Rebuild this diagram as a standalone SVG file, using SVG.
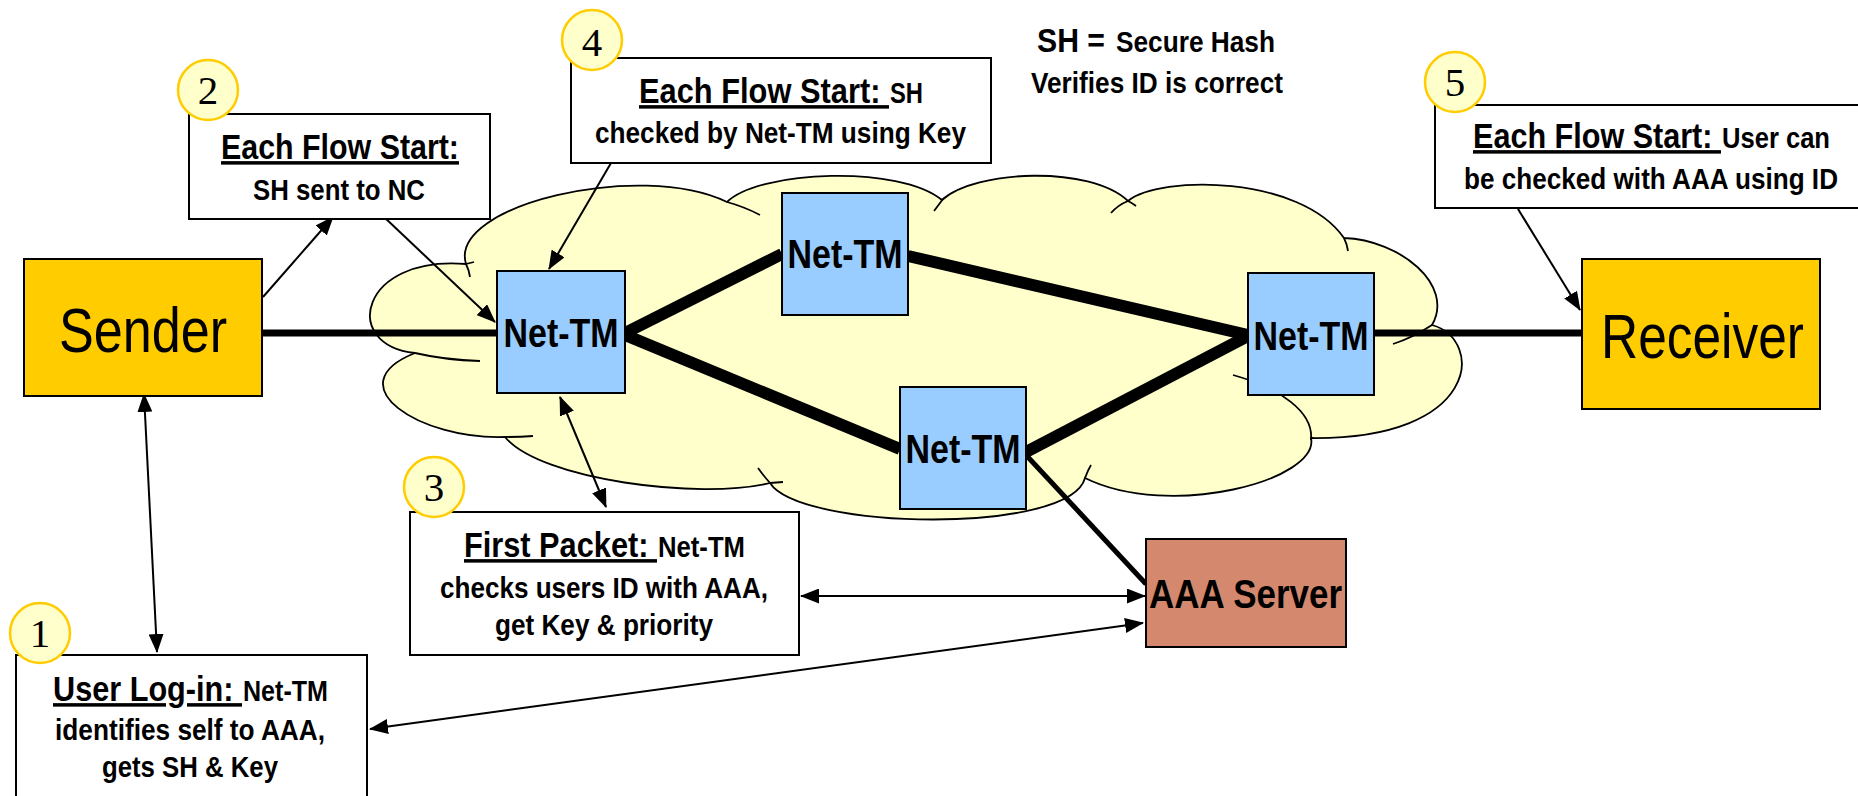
<svg xmlns="http://www.w3.org/2000/svg" width="1858" height="796" viewBox="0 0 1858 796">
<style>
.t{font-family:"Liberation Sans",Arial,sans-serif;font-weight:bold;fill:#000}
.h{font-size:30.5px}
.b{font-size:26px}
.u{text-decoration:underline}
.big{font-family:"Liberation Sans",Arial,sans-serif;font-size:63px;fill:#000}
.box{fill:#fff;stroke:#000;stroke-width:2}
.num{fill:#FFFFCC;stroke:#FFCC00;stroke-width:2.5}
.numt{font-family:"Liberation Serif","Times New Roman",serif;font-size:41px;fill:#000;text-anchor:middle}
.nt{fill:#99CCFF;stroke:#000;stroke-width:2}
.ntl{font-family:"Liberation Sans",Arial,sans-serif;font-weight:bold;font-size:40px;fill:#000}
.thick{stroke:#000;fill:none}
.thin{stroke:#000;stroke-width:2;fill:none}
.stub{fill:none;stroke:#000;stroke-width:1.8}
</style>
<defs>
<marker id="ah" markerUnits="userSpaceOnUse" markerWidth="19" markerHeight="15" refX="18" refY="7.5" orient="auto-start-reverse" viewBox="0 0 19 15"><path d="M0,0 L19,7.5 L0,15 z" fill="#000"/></marker>
</defs>

<g id="cloud">
<path d="M415,353 C340,345 360,255 466,264 C448,205 640,160 727,202 C760,170 900,165 942,200 C975,170 1090,165 1128,201 C1160,175 1300,175 1344,238 C1400,240 1455,285 1432,325 C1485,340 1480,440 1311,438 C1320,480 1170,520 1085,478 C1070,535 800,530 770,483 C700,500 540,480 505,437 C420,440 335,385 415,353 Z" fill="#FFFFCC" stroke="#000" stroke-width="1.8"/>
<path class="stub" d="M466,264 Q469,270 470,277 M466,264 L474,262 M727,202 Q745,207 760,215 M943,199 L934,211 M1128,201 Q1132,203 1136,206 M1128,201 Q1118,205 1111,213 M1344,238 Q1347,244 1348,251 M1432,325 Q1412,338 1393,344 M1311,440 C1314,412 1280,388 1233,375 M1085,478 Q1088,470 1091,465 M770,483 Q763,475 758,468 M770,483 L783,482 M505,437 Q520,437 533,436 M415,353 Q445,360 480,361"/>
</g>

<g id="connectors">
<line class="thick" x1="262" y1="333" x2="497" y2="333" stroke-width="7"/>
<line class="thick" x1="625" y1="333" x2="782" y2="254" stroke-width="12"/>
<line class="thick" x1="908" y1="256" x2="1248" y2="335" stroke-width="12"/>
<line class="thick" x1="625" y1="335" x2="900" y2="449" stroke-width="12"/>
<line class="thick" x1="1026" y1="452" x2="1248" y2="336" stroke-width="12"/>
<line class="thick" x1="1374" y1="333" x2="1582" y2="333" stroke-width="7"/>
<line class="thick" x1="1026" y1="455" x2="1146" y2="584" stroke-width="5"/>
<line class="thin" x1="263" y1="297" x2="333" y2="217" marker-end="url(#ah)"/>
<line class="thin" x1="384" y1="217" x2="495" y2="322" marker-end="url(#ah)"/>
<line class="thin" x1="611" y1="163" x2="549" y2="269" marker-end="url(#ah)"/>
<line class="thin" x1="1518" y1="209" x2="1580" y2="310" marker-end="url(#ah)"/>
<line class="thin" x1="560" y1="397" x2="606" y2="507" marker-start="url(#ah)" marker-end="url(#ah)"/>
<line class="thin" x1="144" y1="394" x2="157" y2="652" marker-start="url(#ah)" marker-end="url(#ah)"/>
<line class="thin" x1="801" y1="596" x2="1145" y2="596" marker-start="url(#ah)" marker-end="url(#ah)"/>
<line class="thin" x1="370" y1="729" x2="1143" y2="623" marker-start="url(#ah)" marker-end="url(#ah)"/>
</g>

<g id="sender">
<rect x="24" y="259" width="238" height="137" fill="#FFCC00" stroke="#000" stroke-width="2"/>
<text class="big" x="59" y="352" textLength="168" lengthAdjust="spacingAndGlyphs">Sender</text>
</g>
<g id="receiver">
<rect x="1582" y="259" width="238" height="150" fill="#FFCC00" stroke="#000" stroke-width="2"/>
<text class="big" x="1601" y="358" textLength="203" lengthAdjust="spacingAndGlyphs">Receiver</text>
</g>
<g id="nettm1">
<rect class="nt" x="497" y="271" width="128" height="122"/>
<text class="ntl" x="503.5" y="347" textLength="115" lengthAdjust="spacingAndGlyphs">Net-TM</text>
</g>
<g id="nettm2">
<rect class="nt" x="782" y="193" width="126" height="122"/>
<text class="ntl" x="787.5" y="268" textLength="115" lengthAdjust="spacingAndGlyphs">Net-TM</text>
</g>
<g id="nettm3">
<rect class="nt" x="900" y="387" width="126" height="122"/>
<text class="ntl" x="905.5" y="463" textLength="115" lengthAdjust="spacingAndGlyphs">Net-TM</text>
</g>
<g id="nettm4">
<rect class="nt" x="1248" y="273" width="126" height="122"/>
<text class="ntl" x="1253.5" y="350" textLength="115" lengthAdjust="spacingAndGlyphs">Net-TM</text>
</g>
<g id="aaa">
<rect x="1146" y="539" width="200" height="108" fill="#D4886E" stroke="#000" stroke-width="2"/>
<text class="t" x="1149" y="608" font-size="40" textLength="193" lengthAdjust="spacingAndGlyphs">AAA Server</text>
</g>

<g id="legend">
<text class="t" x="1037" y="52" font-size="29.6" textLength="68" lengthAdjust="spacingAndGlyphs" transform="matrix(1 0 0 1.15 0 -7.8)">SH =</text>
<text class="t b" x="1116" y="52" textLength="159" lengthAdjust="spacingAndGlyphs" transform="matrix(1 0 0 1.15 0 -7.8)">Secure Hash</text>
<text class="t b" x="1031" y="93" textLength="252" lengthAdjust="spacingAndGlyphs" transform="matrix(1 0 0 1.15 0 -13.95)">Verifies ID is correct</text>
</g>

<g id="note1">
<rect class="box" x="16" y="655" width="351" height="160"/>
<text class="t h u" x="53" y="701" textLength="189" lengthAdjust="spacingAndGlyphs" transform="matrix(1 0 0 1.15 0 -105.15)">User Log-in:&#160;</text>
<text class="t b" x="243" y="701" textLength="85" lengthAdjust="spacingAndGlyphs" transform="matrix(1 0 0 1.15 0 -105.15)">Net-TM</text>
<text class="t b" x="55" y="740" textLength="270" lengthAdjust="spacingAndGlyphs" transform="matrix(1 0 0 1.15 0 -111)">identifies self to AAA,</text>
<text class="t b" x="102" y="777" textLength="176" lengthAdjust="spacingAndGlyphs" transform="matrix(1 0 0 1.15 0 -116.55)">gets SH &amp; Key</text>
<circle class="num" cx="40" cy="633" r="30"/>
<text class="numt" x="40" y="647">1</text>
</g>
<g id="note2">
<rect class="box" x="189" y="114" width="301" height="105"/>
<text class="t h u" x="221" y="159" textLength="238" lengthAdjust="spacingAndGlyphs" transform="matrix(1 0 0 1.15 0 -23.85)">Each Flow Start:</text>
<text class="t b" x="253" y="200" textLength="172" lengthAdjust="spacingAndGlyphs" transform="matrix(1 0 0 1.15 0 -30)">SH sent to NC</text>
<circle class="num" cx="208" cy="90" r="30"/>
<text class="numt" x="208" y="104">2</text>
</g>
<g id="note3">
<rect class="box" x="410" y="512" width="389" height="143"/>
<text class="t h u" x="464" y="557" textLength="193" lengthAdjust="spacingAndGlyphs" transform="matrix(1 0 0 1.15 0 -83.55)">First Packet:&#160;</text>
<text class="t b" x="658" y="557" textLength="87" lengthAdjust="spacingAndGlyphs" transform="matrix(1 0 0 1.15 0 -83.55)">Net-TM</text>
<text class="t b" x="440" y="598" textLength="328" lengthAdjust="spacingAndGlyphs" transform="matrix(1 0 0 1.15 0 -89.7)">checks users ID with AAA,</text>
<text class="t b" x="495" y="635" textLength="218" lengthAdjust="spacingAndGlyphs" transform="matrix(1 0 0 1.15 0 -95.25)">get Key &amp; priority</text>
<circle class="num" cx="434" cy="487" r="30"/>
<text class="numt" x="434" y="501">3</text>
</g>
<g id="note4">
<rect class="box" x="571" y="58" width="420" height="105"/>
<text class="t h u" x="639" y="103" textLength="250" lengthAdjust="spacingAndGlyphs" transform="matrix(1 0 0 1.15 0 -15.45)">Each Flow Start:&#160;</text>
<text class="t b" x="890" y="103" textLength="33" lengthAdjust="spacingAndGlyphs" transform="matrix(1 0 0 1.15 0 -15.45)">SH</text>
<text class="t b" x="595" y="143" textLength="371" lengthAdjust="spacingAndGlyphs" transform="matrix(1 0 0 1.15 0 -21.45)">checked by Net-TM using Key</text>
<circle class="num" cx="592" cy="40" r="30"/>
<text class="numt" x="592" y="56">4</text>
</g>
<g id="note5">
<rect class="box" x="1435" y="105" width="432" height="103"/>
<text class="t h u" x="1473" y="148" textLength="248" lengthAdjust="spacingAndGlyphs" transform="matrix(1 0 0 1.15 0 -22.2)">Each Flow Start:&#160;</text>
<text class="t b" x="1722" y="148" textLength="108" lengthAdjust="spacingAndGlyphs" transform="matrix(1 0 0 1.15 0 -22.2)">User can</text>
<text class="t b" x="1464" y="189" textLength="374" lengthAdjust="spacingAndGlyphs" transform="matrix(1 0 0 1.15 0 -28.35)">be checked with AAA using ID</text>
<circle class="num" cx="1455" cy="82" r="30"/>
<text class="numt" x="1455" y="96">5</text>
</g>
</svg>
